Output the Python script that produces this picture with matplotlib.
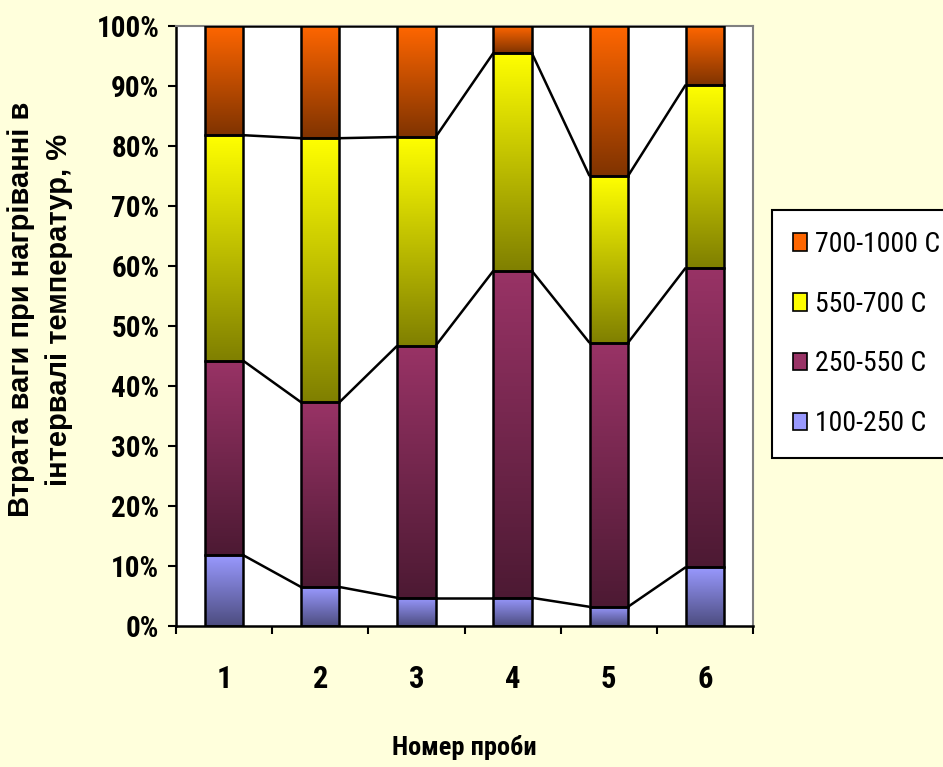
import numpy as np
import matplotlib
matplotlib.use("Agg")
import matplotlib.pyplot as plt
from matplotlib import font_manager
from matplotlib.colors import to_rgb
from matplotlib.patches import Patch

# sample numbers and weight loss in each temperature interval (share, %)
samples = ["1", "2", "3", "4", "5", "6"]
loss_100_250 = [11.8, 6.5, 4.7, 4.7, 3.2, 9.8]
loss_250_550 = [32.4, 30.8, 42.0, 54.5, 44.0, 49.9]
loss_550_700 = [37.6, 44.0, 34.8, 36.3, 27.8, 30.5]
loss_700_1000 = [18.2, 18.7, 18.5, 4.5, 25.0, 9.8]
labels = ["100-250 C", "250-550 C", "550-700 C", "700-1000 C"]
colors = ["#9999FF", "#993366", "#FFFF00", "#FF6600"]


def pick_font(names):
    for n in names:
        try:
            font_manager.findfont(n, fallback_to_default=False)
            return n
        except ValueError:
            pass
    return "DejaVu Sans"


narrow = pick_font(["Liberation Sans Narrow", "Arial Narrow", "Roboto Condensed", "Liberation Sans"])
wide = pick_font(["Liberation Sans", "Arial", "DejaVu Sans"])

series = np.array([loss_100_250, loss_250_550, loss_550_700, loss_700_1000], dtype=float)
series = series / series.sum(axis=0) * 100  # 100% stacked
cum = np.cumsum(series, axis=0)
bottoms = cum - series

fig = plt.figure(figsize=(9.43, 7.67), dpi=100, facecolor="#FFFFDC")
ax = fig.add_axes([176 / 943, 141 / 767, 577 / 943, 600 / 767])
ax.set_facecolor("white")

x = np.arange(1, len(samples) + 1)
w = 0.4


def gradient(c, n=256):
    top = np.array(to_rgb(c))
    bot = top * 0.5
    t = np.linspace(0, 1, n)[:, None]
    return (bot + (top - bot) * t)[:, None, :]


for k in range(4):
    bars = ax.bar(x, series[k], w, bottom=bottoms[k], facecolor="none",
                  edgecolor="black", linewidth=1.8, zorder=3)
    img = gradient(colors[k])
    for r in bars:
        x0, y0 = r.get_x(), r.get_y()
        ax.imshow(img, extent=(x0, x0 + r.get_width(), y0, y0 + r.get_height()),
                  origin="lower", aspect="auto", zorder=2, interpolation="bilinear")

# series lines between neighbouring bars
for k in range(4):
    for i in range(len(x) - 1):
        ax.plot([x[i] + w / 2, x[i + 1] - w / 2], [cum[k][i], cum[k][i + 1]],
                color="black", lw=1.8, zorder=4, solid_capstyle="butt")

ax.set_xlim(0.5, 6.5)
ax.set_ylim(0, 100)

for s in ["top", "right"]:
    ax.spines[s].set_color("#808080")
    ax.spines[s].set_linewidth(1.5)
for s in ["left", "bottom"]:
    ax.spines[s].set_color("black")
    ax.spines[s].set_linewidth(1.8)

ax.set_yticks(np.arange(0, 101, 10))
ax.set_yticklabels([f"{v}%" for v in range(0, 101, 10)])
ax.tick_params(axis="y", direction="out", length=6, width=1.5, pad=6)
ax.set_xticks(x)
ax.set_xticklabels(samples)
ax.set_xticks(np.arange(0.5, 7, 1), minor=True)
ax.tick_params(axis="x", which="major", length=0, pad=27)
ax.tick_params(axis="x", which="minor", direction="out", length=6, width=1.5)
for lab in ax.get_yticklabels():
    lab.set_fontfamily(narrow)
    lab.set_fontweight("bold")
    lab.set_fontsize(21)
for lab in ax.get_xticklabels():
    lab.set_fontfamily(narrow)
    lab.set_fontweight("bold")
    lab.set_fontsize(22)

ax.set_xlabel("Номер проби", fontfamily=narrow, fontweight="bold", fontsize=19,
              va="center")
ax.xaxis.set_label_coords(0.5, -0.203)
ax.set_ylabel("Втрата ваги при нагріванні в\nінтервалі температур, %",
              fontfamily=wide, fontweight="bold", fontsize=21, linespacing=1.45,
              va="center")
ax.yaxis.set_label_coords(-0.235, 0.527)

handles = [Patch(facecolor=colors[k], edgecolor="black", linewidth=1.2) for k in range(3, -1, -1)]
leg = fig.legend(handles, [labels[k] for k in range(3, -1, -1)],
                 loc="upper left", bbox_to_anchor=(772 / 943, 1 - 210 / 767),
                 prop={"family": narrow, "size": 20}, frameon=True, fancybox=False,
                 edgecolor="black", facecolor="white", framealpha=1,
                 borderpad=0.75, labelspacing=1.18, handlelength=0.5,
                 handleheight=0.6, handletextpad=0.3, borderaxespad=0)
leg.get_frame().set_linewidth(1.5)

fig.savefig("out.png", dpi=100, facecolor=fig.get_facecolor())
